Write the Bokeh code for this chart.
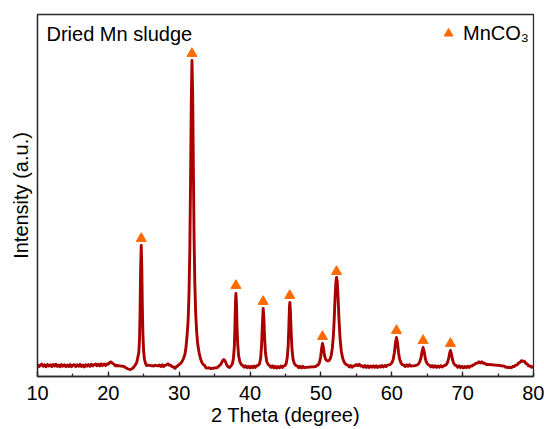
from bokeh.plotting import figure
from bokeh.models import (ColumnDataSource, Range1d, SingleIntervalTicker, FixedTicker,
                          Legend, LegendItem, Label)
from bokeh.embed import file_html
from bokeh.resources import INLINE

# ---- XRD pattern of dried Mn sludge ----
two_theta = [
    10.0, 10.2, 10.4, 10.6, 10.8, 11.0, 11.2, 11.4, 11.6, 11.8,
    12.0, 12.2, 12.4, 12.6, 12.8, 13.0, 13.2, 13.4, 13.6, 13.8,
    14.0, 14.2, 14.4, 14.6, 14.8, 15.0, 15.2, 15.4, 15.6, 15.8,
    16.0, 16.2, 16.4, 16.6, 16.8, 17.0, 17.2, 17.4, 17.6, 17.8,
    18.0, 18.2, 18.4, 18.6, 18.8, 19.0, 19.2, 19.4, 19.6, 19.8,
    20.0, 20.2, 20.4, 20.6, 20.8, 21.0, 21.2, 21.4, 21.6, 21.8,
    22.0, 22.2, 22.4, 22.6, 22.8, 23.0, 23.2, 23.4, 23.6, 23.8,
    24.0, 24.15, 24.3, 24.4, 24.47, 24.55, 24.64, 24.72, 24.8, 24.88, 24.98, 25.1, 25.25, 25.4,
    25.6, 25.8, 26.0, 26.2, 26.4, 26.6, 26.8, 27.0, 27.2, 27.4,
    27.6, 27.8, 28.0, 28.2, 28.4, 28.6, 28.8, 29.0, 29.2, 29.4, 29.6, 29.8,
    30.0, 30.2, 30.4, 30.6, 30.8, 30.95, 31.1, 31.25, 31.38, 31.5, 31.6, 31.7,
    31.8, 31.9, 32.0, 32.1, 32.2, 32.32, 32.45, 32.6, 32.8, 33.0, 33.2, 33.4,
    33.6, 33.8, 34.0, 34.2, 34.4, 34.6, 34.8, 35.0, 35.2, 35.4, 35.6,
    35.8, 36.0, 36.15, 36.3, 36.45, 36.6, 36.75, 36.9, 37.1, 37.3, 37.5,
    37.65, 37.78, 37.87, 37.94, 38.0, 38.07, 38.15, 38.25, 38.38, 38.55, 38.75,
    38.95, 39.15, 39.35, 39.55, 39.75, 39.95, 40.15, 40.35, 40.55, 40.75, 40.95, 41.15,
    41.35, 41.5, 41.63, 41.74, 41.85, 41.95, 42.05, 42.17, 42.35, 42.55,
    42.75, 42.95, 43.15, 43.35, 43.55, 43.75, 43.95, 44.15, 44.35, 44.55, 44.75, 44.95,
    45.1, 45.25, 45.38, 45.48, 45.56, 45.62, 45.7, 45.8, 45.92, 46.07, 46.25, 46.45,
    46.65, 46.85, 47.05, 47.25, 47.45, 47.65, 47.85, 48.05, 48.25, 48.45, 48.65, 48.85, 49.05, 49.25, 49.45,
    49.6, 49.8, 49.97, 50.1, 50.22, 50.35, 50.5, 50.65, 50.8, 51.0,
    51.15, 51.3, 51.45, 51.6, 51.75, 51.88, 52.0, 52.1, 52.2, 52.3,
    52.42, 52.55, 52.7, 52.88, 53.08, 53.3, 53.55,
    53.8, 54.0, 54.2, 54.4, 54.6, 54.8, 55.0, 55.2, 55.4, 55.6,
    55.8, 56.0, 56.2, 56.4, 56.6, 56.8, 57.0, 57.2, 57.4, 57.6,
    57.8, 58.0, 58.2, 58.4, 58.6, 58.8, 59.0, 59.2, 59.4, 59.6,
    59.8, 60.0, 60.2, 60.37, 60.52, 60.66, 60.8, 60.95, 61.12, 61.3, 61.5,
    61.7, 61.9, 62.1, 62.3, 62.5, 62.7, 62.9, 63.1, 63.3, 63.5,
    63.7, 63.9, 64.1, 64.27, 64.42, 64.57, 64.73, 64.9, 65.1,
    65.3, 65.5, 65.7, 65.9, 66.1, 66.3, 66.5, 66.7, 66.9, 67.1, 67.3, 67.5,
    67.7, 67.9, 68.05, 68.17, 68.28, 68.4, 68.55, 68.72, 68.9,
    69.1, 69.3, 69.5, 69.7, 69.9, 70.1, 70.3, 70.5, 70.7, 70.9, 71.1, 71.3, 71.5,
    71.7, 71.9, 72.1, 72.3, 72.5, 72.7, 72.9, 73.1, 73.3, 73.5, 73.7, 73.9, 74.1,
    74.3, 74.5, 74.7, 74.9, 75.1, 75.3, 75.5, 75.7, 75.9, 76.1, 76.3, 76.5, 76.7,
    76.9, 77.1, 77.3, 77.5, 77.7, 77.9, 78.1, 78.3, 78.5, 78.7, 78.9, 79.1, 79.3, 79.5, 79.7, 79.9,
    80.0,
]
intensity = [
    11.8, 9.9, 11.3, 12.4, 10.2, 11.7, 9.7, 12.1, 10.5, 11.8,
    9.9, 12.0, 10.4, 12.3, 10.1, 11.5, 9.8, 11.9, 10.3, 11.7,
    9.8, 11.4, 10.0, 12.0, 9.8, 11.3, 11.8, 9.9, 11.6, 10.2,
    12.1, 10.0, 11.5, 9.6, 11.7, 10.4, 12.0, 10.1, 12.3, 10.6,
    11.8, 12.5, 10.8, 12.2, 10.6, 12.6, 11.1, 12.4, 10.9, 12.5,
    12.5, 14.2, 14.6, 13.0, 12.2, 10.6, 11.0, 10.8, 10.6, 10.4,
    10.3, 10.1, 9.0, 8.2, 7.5, 7.0, 7.4, 8.0, 9.5, 11.5,
    14, 19, 24, 38, 62, 105, 131, 108, 68, 42, 25, 17, 13, 11,
    11.2, 11.1, 10.8, 10.8, 10.4, 11.3, 10.9, 10.6, 11.4, 10.1,
    11.6, 9.9, 11.4, 11.5, 12.7, 11.2, 11.2, 9.6, 9.6, 8.2, 9.8, 10.8,
    12, 13, 15, 18, 22, 29, 40, 55, 82, 128, 195, 272,
    316, 282, 208, 138, 94, 64, 46, 33, 24, 18, 14, 12,
    10.9, 8.6, 8.4, 8.8, 7.9, 8.2, 8.2, 8.6, 8.6, 9.1, 10.6,
    11.5, 14, 16, 17, 16, 13.5, 11, 9.5, 9.0, 10.5, 12.5,
    18, 30, 52, 74, 83, 75, 52, 33, 21, 15, 12,
    11.0, 9.4, 10.6, 8.9, 10.3, 8.6, 10.1, 8.8, 10.5, 9.1, 10.8, 11.2,
    13, 19, 32, 52, 68, 58, 39, 24, 15, 12,
    10.8, 9.2, 10.6, 8.6, 10.2, 8.4, 9.9, 8.7, 10.4, 9.0, 10.7, 11.0,
    13, 19, 31, 51, 70, 74, 64, 44, 27, 17, 13, 11,
    10.6, 8.9, 10.3, 8.6, 10.1, 8.8, 9.2, 9.1, 9.4, 9.4, 9.7, 9.6, 9.8, 9.9, 11.2,
    11.5, 14, 20, 28, 33, 29, 21, 17.5, 16, 15.5,
    16, 17.5, 21, 28, 40, 58, 80, 93, 99, 95,
    79, 57, 38, 25, 18, 14, 12,
    11.2, 9.6, 11.0, 9.2, 10.8, 10.6, 12.0, 10.8, 12.2, 10.5,
    10.7, 9.4, 10.9, 9.1, 10.6, 9.0, 10.4, 9.3, 10.8, 9.2,
    10.6, 9.1, 10.5, 9.4, 10.9, 9.6, 11.1, 9.9, 11.4, 11.6,
    12.2, 13.5, 17, 24, 34, 39, 34, 24, 17, 13.5, 11.8,
    11.4, 10.0, 11.6, 10.2, 11.8, 10.4, 10.6, 10.6, 10.9, 11.3,
    12, 14, 18, 25, 29, 25, 18, 14, 12,
    11.2, 9.6, 11.0, 9.3, 10.7, 9.1, 10.5, 9.2, 10.8, 9.5, 10.6, 11.0,
    12, 14.5, 19, 23.5, 26, 23, 17.5, 13.5, 11.5,
    10.9, 9.2, 10.6, 8.9, 10.3, 8.6, 10.0, 8.8, 10.3, 9.0, 10.6, 10.4, 11.5,
    12.2, 13.4, 13.4, 14.7, 13.5, 14.8, 13.2, 13.4, 12.0, 12.2, 11.9, 12.0, 11.6,
    11.7, 11.4, 11.4, 11.1, 11.2, 10.8, 10.8, 10.5, 10.4, 9.2, 9.4, 9.0, 9.2,
    8.8, 10.2, 9.9, 11.4, 11.6, 13.6, 14.1, 15.8, 15.2, 15.4, 13.2, 12.6, 10.6, 10.6, 9.2, 9.8,
    9.3,
]
assert len(two_theta) == len(intensity)

# ---- MnCO3 reflections (marker positions) ----
mnco3_theta = [24.64, 31.8, 38.0, 41.85, 45.6, 50.22, 52.2, 60.66, 64.42, 68.28]
mnco3_level = [138, 323, 91, 75, 81, 40, 105, 46, 36, 33]

FONT = "Liberation Sans"
DARK = "#2b2b2b"

p = figure(width=544, height=429, output_backend="svg", toolbar_location=None,
           x_range=Range1d(10, 80), y_range=Range1d(0, 362),
           min_border_left=37, min_border_right=11, min_border_top=14, min_border_bottom=53)
p.background_fill_color = "white"
p.border_fill_color = "white"
p.grid.visible = False
p.outline_line_color = DARK
p.outline_line_width = 1.3

line_src = ColumnDataSource(dict(x=two_theta, y=intensity))
p.line("x", "y", source=line_src, line_color="#AA0000", line_width=2.9, line_join="round")

mk_src = ColumnDataSource(dict(x=mnco3_theta, y=mnco3_level))
tri = p.scatter("x", "y", source=mk_src, marker="triangle", size=10,
                fill_color="#FF6A00", line_color="#FF6A00")

# x axis
xa = p.xaxis[0]
xa.ticker = SingleIntervalTicker(interval=10, num_minor_ticks=2)
xa.major_tick_in = 5
xa.major_tick_out = 0
xa.minor_tick_in = 3
xa.minor_tick_out = 0
xa.major_tick_line_color = DARK
xa.minor_tick_line_color = DARK
xa.major_tick_line_width = 1.3
xa.minor_tick_line_width = 1.3
xa.axis_line_color = DARK
xa.axis_line_width = 1.3
xa.major_label_text_font = FONT
xa.major_label_text_font_size = "20px"
xa.major_label_text_color = "black"
xa.major_label_standoff = 9
xa.axis_label = "2 Theta (degree)"
xa.axis_label_text_font = FONT
xa.axis_label_text_font_size = "20px"
xa.axis_label_text_font_style = "normal"
xa.axis_label_text_color = "black"
xa.axis_label_standoff = 1

# y axis (no ticks)
ya = p.yaxis[0]
ya.ticker = FixedTicker(ticks=[])
ya.major_tick_in = 0
ya.major_tick_out = 0
ya.minor_tick_in = 0
ya.minor_tick_out = 0
ya.axis_line_color = DARK
ya.axis_line_width = 1.3
ya.axis_label = "Intensity (a.u.)"
ya.axis_label_text_font = FONT
ya.axis_label_text_font_size = "20px"
ya.axis_label_text_font_style = "normal"
ya.axis_label_text_color = "black"
ya.axis_label_standoff = 6

# sample name
p.add_layout(Label(x=10, y=362, x_offset=9, y_offset=-19, text="Dried Mn sludge",
                   text_font=FONT, text_font_size="20px", text_baseline="middle",
                   text_color="black"))

legend = Legend(items=[LegendItem(label="MnCO\u2083", renderers=[tri])],
                location="top_right", margin=0, padding=4, label_standoff=4,
                glyph_width=22, glyph_height=30,
                label_text_font=FONT, label_text_font_size="20px",
                label_text_color="black",
                border_line_alpha=0, background_fill_alpha=0)
p.add_layout(legend)

open("out.html", "w").write(file_html(p, INLINE))
